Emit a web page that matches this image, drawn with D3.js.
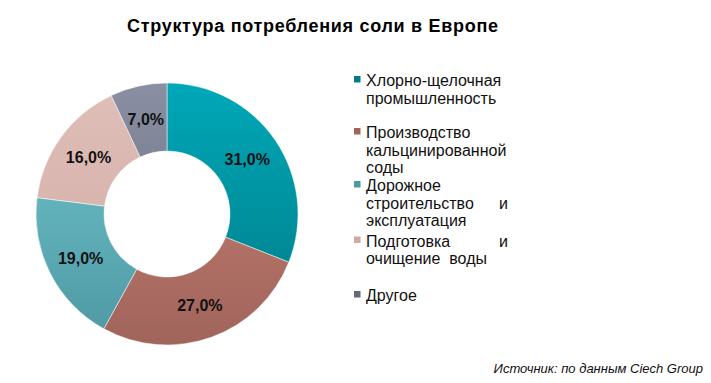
<!DOCTYPE html>
<html>
<head>
  <meta charset="utf-8">
  <script src="https://d3js.org/d3.v7.min.js"></script>
  <style>
    body { margin: 0; background: #fff; }
    text { font-family: "Liberation Sans", Arial, sans-serif; }
  </style>
</head>
<body>
<script>
  // data
  var categories = ["Хлорно-щелочная промышленность", "Производство кальцинированной соды",
                    "Дорожное строительство и эксплуатация", "Подготовка и очищение воды", "Другое"];
  var values = [31, 27, 19, 16, 7];
  var legendLines = [
    [["Хлорно-щелочная"], ["промышленность"]],
    [["Производство"], ["кальцинированной"], ["соды"]],
    [["Дорожное"], ["строительство", "и"], ["эксплуатация"]],
    [["Подготовка", "и"], ["очищение  воды"]],
    [["Другое"]]
  ];
  var colorsTop = ["#00a8b8", "#cc8377", "#72c8d2", "#e0bfb9", "#8a8fa3"];
  var colorsBottom = ["#007a86", "#a0645b", "#4e98a2", "#cfa9a2", "#646879"];

  var width = 711, height = 383;
  var cx = 167, cy = 214, outerR = 131, innerR = 63;

  var svg = d3.select("body").append("svg")
    .attr("width", width)
    .attr("height", height);

  //vertical gradients, in the donut group's coordinates
  var defs = svg.append("defs");
  categories.forEach(function (c, i) {
    var g = defs.append("linearGradient")
      .attr("id", "grad" + i)
      .attr("gradientUnits", "userSpaceOnUse")
      .attr("x1", 0).attr("y1", -outerR)
      .attr("x2", 0).attr("y2", outerR);
    g.append("stop").attr("offset", "0%").attr("stop-color", colorsTop[i]);
    g.append("stop").attr("offset", "100%").attr("stop-color", colorsBottom[i]);
  });

  //title
  svg.append("text")
    .attr("x", 127).attr("y", 32)
    .attr("textLength", 371)
    .attr("lengthAdjust", "spacing")
    .style("font-size", "18px")
    .style("font-weight", "bold")
    .attr("fill", "#000")
    .text("Структура потребления соли в Европе");

  var pie = d3.pie().sort(null).value(function (d) { return d; });
  var arc = d3.arc().innerRadius(innerR).outerRadius(outerR);
  var labelArc = d3.arc().innerRadius((innerR + outerR) / 2).outerRadius((innerR + outerR) / 2);

  var chart = svg.append("g").attr("transform", "translate(" + cx + "," + cy + ")");
  var arcs = pie(values);

  chart.selectAll("path.slice")
    .data(arcs)
    .enter().append("path")
    .attr("class", "slice")
    .attr("d", arc)
    .attr("fill", function (d, i) { return "url(#grad" + i + ")"; })
    .attr("stroke", "#fff")
    .attr("stroke-width", 0.5);

  chart.selectAll("text.lbl")
    .data(arcs)
    .enter().append("text")
    .attr("class", "lbl")
    .attr("transform", function (d) { return "translate(" + labelArc.centroid(d) + ")"; })
    .attr("text-anchor", "middle")
    .attr("dy", "0.35em")
    .style("font-size", "16px")
    .style("font-weight", "bold")
    .attr("fill", "#111")
    .text(function (d) { return d.data.toFixed(1).replace(".", ",") + "%"; });

  // legend
  var legendY = [86, 138, 191, 246.5, 301];
  var lineH = 17.6, textX = 366, rightX = 508;
  var legend = svg.append("g");
  legendLines.forEach(function (lines, i) {
    legend.append("rect")
      .attr("x", 354).attr("y", legendY[i] - 10)
      .attr("width", 6.5).attr("height", 6.5)
      .attr("fill", colorsBottom[i]);
    lines.forEach(function (words, j) {
      var y = legendY[i] + j * lineH;
      legend.append("text")
        .attr("x", textX).attr("y", y)
        .style("font-size", "16px")
        .style("white-space", "pre")
        .attr("fill", "#111")
        .text(words[0]);
      if (words.length > 1) {
        legend.append("text")
          .attr("x", rightX).attr("y", y)
          .attr("text-anchor", "end")
          .style("font-size", "16px")
          .attr("fill", "#111")
          .text(words[1]);
      }
    });
  });

  //source
  svg.append("text")
    .attr("x", 703).attr("y", 373)
    .attr("text-anchor", "end")
    .style("font-size", "13px")
    .style("font-style", "italic")
    .attr("fill", "#111")
    .text("Источник: по данным Ciech Group");
</script>
</body>
</html>
